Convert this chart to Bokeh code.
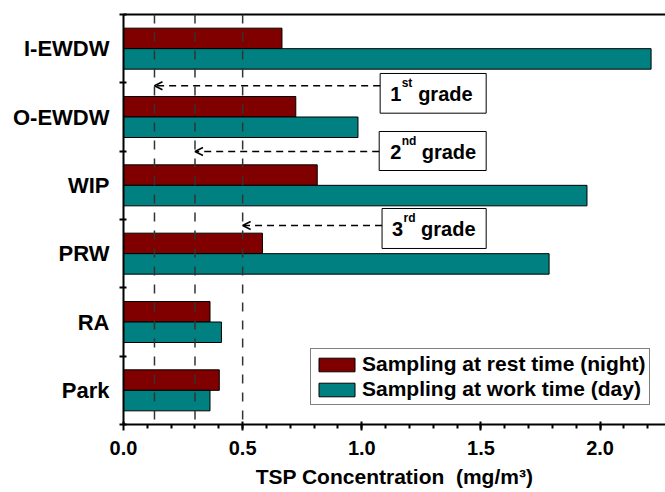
import numpy as np
from bokeh.plotting import figure
from bokeh.models import (Range1d, FixedTicker, LinearAxis, Span, Arrow, OpenHead,
                          BoxAnnotation, Label, Legend, LegendItem, ColumnDataSource)
from bokeh.embed import file_html
from bokeh.resources import INLINE

# ---------------- data ----------------
categories = ["I-EWDW", "O-EWDW", "WIP", "PRW", "RA", "Park"]       # top to bottom
night_tsp = [0.665, 0.723, 0.813, 0.583, 0.363, 0.402]               # rest time (night)
day_tsp = [2.214, 0.984, 1.945, 1.786, 0.411, 0.363]                 # work time (day)
grade_limits = [0.13, 0.30, 0.50]                                    # 1st/2nd/3rd grade
grade_digits = ["1", "2", "3"]
grade_sups = ["st", "nd", "rd"]
x_ticks = [0.0, 0.5, 1.0, 1.5, 2.0]
x_tick_labels = ["0.0", "0.5", "1.0", "1.5", "2.0"]

FONT = "Liberation Sans"
NIGHT = "#800000"
DAY = "#008080"

n = len(categories)
centers = [n - 0.5 - i for i in range(n)]

p = figure(width=665, height=492, x_range=Range1d(0, 2.2745), y_range=Range1d(0, n),
           output_backend="svg", toolbar_location=None,
           min_border_left=123, min_border_right=0, min_border_top=14, min_border_bottom=68)
p.outline_line_color = None
p.xgrid.visible = False
p.ygrid.visible = False
p.background_fill_color = "white"
p.border_fill_color = "white"

src = ColumnDataSource(dict(
    night_y=[c + 0.15 for c in centers], day_y=[c - 0.15 for c in centers],
    night=night_tsp, day=day_tsp))
r_night = p.hbar(y="night_y", height=0.3, left=0, right="night", source=src,
                 fill_color=NIGHT, line_color="black", line_width=1)
r_day = p.hbar(y="day_y", height=0.3, left=0, right="day", source=src,
               fill_color=DAY, line_color="black", line_width=1)

# ---------------- axes ----------------
yax = p.yaxis[0]
yax.ticker = FixedTicker(ticks=centers, minor_ticks=list(range(n + 1)))
yax.major_label_overrides = {c: lab for c, lab in zip(centers, categories)}
yax.major_tick_line_color = None
yax.major_tick_in = 0
yax.major_tick_out = 0
yax.minor_tick_in = 3
yax.minor_tick_out = 4
yax.minor_tick_line_width = 2
yax.minor_tick_line_color = "black"
yax.axis_line_width = 2
yax.axis_line_color = "black"
yax.major_label_text_font = FONT
yax.major_label_text_font_style = "bold"
yax.major_label_text_font_size = "22px"
yax.major_label_text_color = "black"
yax.major_label_standoff = 10

xax = p.xaxis[0]
xax.ticker = FixedTicker(ticks=x_ticks,
                         minor_ticks=[round(v, 1) for v in np.arange(0.1, 2.25, 0.1)])
xax.major_label_overrides = {t: lab for t, lab in zip(x_ticks, x_tick_labels)}
xax.major_tick_in = 3
xax.major_tick_out = 6
xax.minor_tick_in = 0
xax.minor_tick_out = 4
xax.major_tick_line_width = 2
xax.minor_tick_line_width = 2
xax.axis_line_width = 2
xax.axis_line_color = "black"
xax.major_label_text_font = FONT
xax.major_label_text_font_style = "bold"
xax.major_label_text_font_size = "20px"
xax.major_label_text_color = "black"
xax.major_label_standoff = 10
xax.axis_label = "TSP Concentration\u00a0\u00a0(mg/m\u00b3)"
xax.axis_label_text_font = FONT
xax.axis_label_text_font_style = "bold"
xax.axis_label_text_font_size = "21px"
xax.axis_label_text_color = "black"
xax.axis_label_standoff = 7

top = LinearAxis(ticker=FixedTicker(ticks=[]), axis_line_width=2, axis_line_color="black",
                 major_tick_line_color=None, minor_tick_line_color=None,
                 major_label_text_font_size="0px")
p.add_layout(top, "above")

# ---------------- grade limit lines ----------------
for t in grade_limits:
    p.add_layout(Span(location=t, dimension="height", line_color="#333333",
                      line_width=1.5, line_dash="9 9"))

# boxes with labels and arrows (annotation layout, in data units)
box_left = [1.077, 1.073, 1.085]
box_right = [1.522, 1.522, 1.522]
box_top = [5.137, 4.288, 3.161]
box_bottom = [4.556, 3.717, 2.576]
arrow_y = [4.957, 3.995, 2.912]
digit_off = [10, 11, 10]
sup_off = [21.5, 22.5, 21.5]
word_off = [38, 42.5, 39]

for i in range(3):
    p.add_layout(BoxAnnotation(left=box_left[i], right=box_right[i], bottom=box_bottom[i],
                               top=box_top[i], fill_color="white", fill_alpha=1,
                               line_color="black", line_width=1, line_alpha=1))
    p.add_layout(Arrow(end=OpenHead(size=8, line_width=1.5, line_color="black"),
                       x_start=box_left[i], y_start=arrow_y[i],
                       x_end=grade_limits[i], y_end=arrow_y[i],
                       line_color="black", line_width=1.5, line_dash="7 5"))
    common = dict(x=box_left[i], y=box_bottom[i], text_font=FONT, text_font_style="bold",
                  text_color="black", text_baseline="alphabetic")
    p.add_layout(Label(text=grade_digits[i], x_offset=digit_off[i], y_offset=19,
                       text_font_size="20px", **common))
    p.add_layout(Label(text=grade_sups[i], x_offset=sup_off[i], y_offset=30,
                       text_font_size="12px", **common))
    p.add_layout(Label(text="grade", x_offset=word_off[i], y_offset=19,
                       text_font_size="20px", **common))

# ---------------- legend ----------------
legend = Legend(items=[LegendItem(label="Sampling at rest time (night)", renderers=[r_night]),
                       LegendItem(label="Sampling at work time (day)", renderers=[r_day])],
                location=(187, 19), margin=0, padding=3, spacing=1,
                glyph_width=45, glyph_height=17, label_height=17, label_standoff=3,
                label_text_font=FONT, label_text_font_style="bold",
                label_text_font_size="21px", label_text_color="black",
                border_line_color="black", border_line_width=1,
                background_fill_color="white", background_fill_alpha=1)
p.add_layout(legend, "center")

open("out.html", "w").write(file_html(p, INLINE))
